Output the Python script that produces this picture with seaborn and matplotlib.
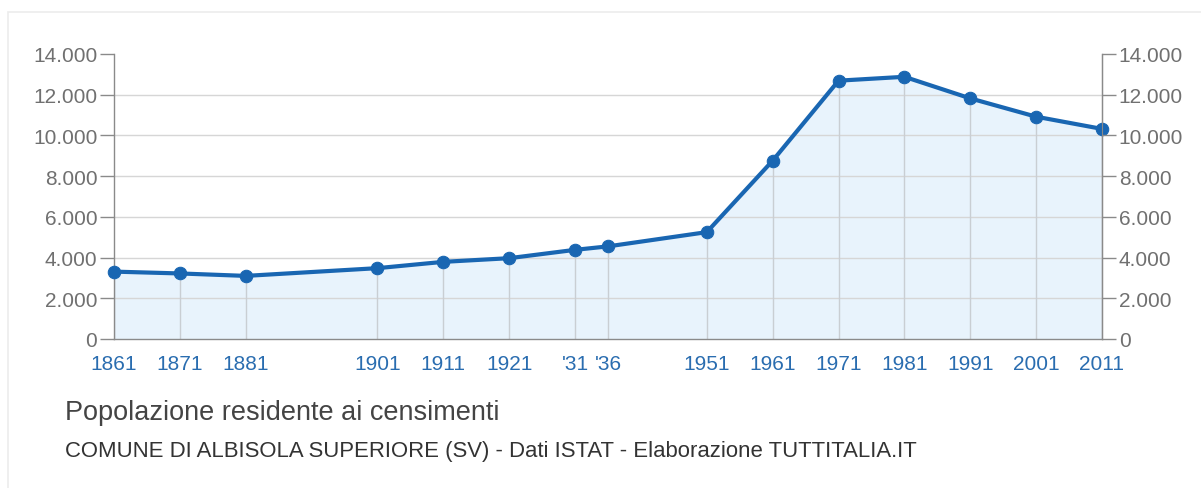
import matplotlib
matplotlib.use("Agg")
import matplotlib.pyplot as plt
import matplotlib.patches as mpatches
from matplotlib.ticker import FuncFormatter
import seaborn as sns
import pandas as pd

# Census years and resident population
years = [1861, 1871, 1881, 1901, 1911, 1921, 1931, 1936, 1951, 1961, 1971, 1981, 1991, 2001, 2011]
population = [3310, 3220, 3100, 3480, 3790, 3970, 4380, 4550, 5250, 8760, 12690, 12880, 11820, 10920, 10320]
year_labels = ["1861", "1871", "1881", "1901", "1911", "1921", "'31", "'36", "1951", "1961",
               "1971", "1981", "1991", "2001", "2011"]
y_ticks = [0, 2000, 4000, 6000, 8000, 10000, 12000, 14000]

title = "Popolazione residente ai censimenti"
source = "COMUNE DI ALBISOLA SUPERIORE (SV) - Dati ISTAT - Elaborazione TUTTITALIA.IT"

df = pd.DataFrame({"anno": years, "popolazione": population})

sns.set_style("white")
plt.rcParams["font.family"] = ["Liberation Sans", "DejaVu Sans"]

LINE = "#1966b2"
FILL = "#e8f3fc"
GRID = "#d6d6d6"
AXIS = "#8a8a8a"
TICKTXT = "#707070"
XTXT = "#2a6db0"

fig = plt.figure(figsize=(12.01, 4.89), dpi=100)
fig.patch.set_facecolor("white")

# faint frame around the whole panel
fig.add_artist(mpatches.Rectangle((8 / 1201, -0.05), 1.2, 1 - 13 / 489 + 0.05,
                                  transform=fig.transFigure, facecolor="none",
                                  edgecolor="#ececec", linewidth=1.2))

ax = fig.add_axes([114 / 1201, 1 - 340 / 489, (1102 - 114) / 1201, (340 - 55) / 489])
ax.set_xlim(years[0], years[-1])
ax.set_ylim(0, 14000)

# area under the curve
ax.fill_between(df["anno"], df["popolazione"], 0, color=FILL, zorder=1, linewidth=0)

# horizontal grid
for v in y_ticks[1:-1]:
    ax.axhline(v, color=GRID, linewidth=1, zorder=1.5)

# drop lines from each census point
ax.vlines(df["anno"], 0, df["popolazione"], color="#c9ced3", linewidth=1, zorder=1.6)

sns.lineplot(data=df, x="anno", y="popolazione", ax=ax, color=LINE, linewidth=3,
             marker="o", markersize=9, markeredgecolor=LINE, markerfacecolor=LINE,
             zorder=3, clip_on=False)

fmt = FuncFormatter(lambda v, _: f"{int(v):,}".replace(",", "."))

ax.set_xticks(years)
ax.set_xticklabels(year_labels)
ax.set_yticks(y_ticks)
ax.yaxis.set_major_formatter(fmt)
ax.tick_params(axis="x", colors=AXIS, labelcolor=XTXT, labelsize=15, length=9,
               width=1, direction="out", pad=2)
ax.tick_params(axis="y", colors=AXIS, labelcolor=TICKTXT, labelsize=15, length=10,
               width=1, direction="out", pad=2)

ax.set_xlabel("")
ax.set_ylabel("")

ax.spines["top"].set_visible(False)
for side in ["left", "right", "bottom"]:
    ax.spines[side].set_color(AXIS)
    ax.spines[side].set_linewidth(1)

# mirrored axis on the right
ax2 = ax.twinx()
ax2.set_ylim(0, 14000)
ax2.set_yticks(y_ticks)
ax2.yaxis.set_major_formatter(fmt)
ax2.tick_params(axis="y", colors=AXIS, labelcolor=TICKTXT, labelsize=15, length=10,
                width=1, direction="out", pad=2)
for side in ["top", "left", "bottom"]:
    ax2.spines[side].set_visible(False)
ax2.spines["right"].set_color(AXIS)

fig.text(65 / 1201, 1 - 420 / 489, title, fontsize=19.5, color="#444444",
         ha="left", va="baseline")
fig.text(65 / 1201, 1 - 457 / 489, source, fontsize=15.9, color="#333333",
         ha="left", va="baseline")

fig.savefig("out.png", dpi=100, facecolor="white")
